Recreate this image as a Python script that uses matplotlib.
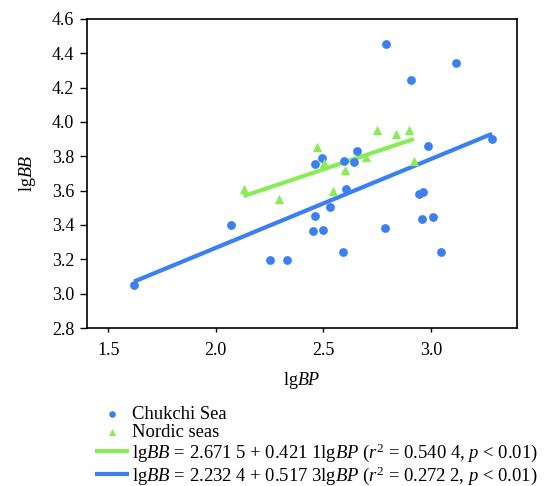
import matplotlib
matplotlib.use("Agg")
import matplotlib.pyplot as plt
import numpy as np

plt.rcParams['font.family'] = ['Liberation Serif', 'DejaVu Serif']
plt.rcParams['mathtext.fontset'] = 'custom'
plt.rcParams['mathtext.rm'] = 'Liberation Serif'
plt.rcParams['mathtext.it'] = 'Liberation Serif:italic'
plt.rcParams['mathtext.bf'] = 'Liberation Serif:bold'

# Chukchi Sea
chukchi_x = [1.62, 2.07, 2.25, 2.33, 2.45, 2.46, 2.46, 2.495, 2.50, 2.53, 2.59, 2.595, 2.607,
             2.641, 2.657, 2.786, 2.79, 2.907, 2.944, 2.961, 2.959, 2.987, 3.008, 3.045, 3.118, 3.284]
chukchi_y = [3.05, 3.40, 3.198, 3.195, 3.365, 3.453, 3.757, 3.789, 3.373, 3.503, 3.241, 3.775, 3.608,
             3.765, 3.833, 3.383, 4.456, 4.243, 3.581, 3.592, 3.437, 3.862, 3.449, 3.245, 4.345, 3.901]
# Nordic seas
nordic_x = [2.129, 2.292, 2.472, 2.503, 2.547, 2.599, 2.697, 2.751, 2.837, 2.899, 2.921]
nordic_y = [3.608, 3.553, 3.853, 3.763, 3.598, 3.721, 3.798, 3.952, 3.930, 3.954, 3.773]

# regression coefficients (intercept, slope)
nordic_fit = (2.6715, 0.4211)
chukchi_fit = (2.2324, 0.5173)

nordic_label = r"lg$BB$ = 2.671 5 + 0.421 1lg$BP$ ($r^2$ = 0.540 4, $p$ < 0.01)"
chukchi_label = r"lg$BB$ = 2.232 4 + 0.517 3lg$BP$ ($r^2$ = 0.272 2, $p$ < 0.01)"

xticks = [1.5, 2.0, 2.5, 3.0]
yticks = [2.8, 3.0, 3.2, 3.4, 3.6, 3.8, 4.0, 4.2, 4.4, 4.6]

blue = '#3b7ff0'
green = '#88ec57'

fig = plt.figure(figsize=(5.44, 4.86), dpi=100)
ax = fig.add_axes([86.7/544, 1-328/486, (517-86.7)/544, (328-19)/486])

s1 = ax.scatter(chukchi_x, chukchi_y, s=40, color=blue, marker='o', linewidths=0, zorder=3,
                label='Chukchi Sea')
s2 = ax.scatter(nordic_x, nordic_y, s=45, color=green, marker='^', linewidths=0, zorder=3,
                label='Nordic seas')

nx = np.array([min(nordic_x), max(nordic_x)])
cx = np.array([min(chukchi_x), max(chukchi_x)])
l1, = ax.plot(nx, nordic_fit[0] + nordic_fit[1]*nx, color=green, lw=3.0,
              solid_capstyle='butt', zorder=2, label=nordic_label)
l2, = ax.plot(cx, chukchi_fit[0] + chukchi_fit[1]*cx, color=blue, lw=3.0,
              solid_capstyle='butt', zorder=2, label=chukchi_label)

ax.set_xlim(1.4, 3.4)
ax.set_ylim(2.8, 4.6)
ax.set_xticks(xticks)
ax.set_xticklabels([f"{v:.1f}" for v in xticks])
ax.set_yticks(yticks)
ax.set_yticklabels([f"{v:.1f}" for v in yticks])
ax.tick_params(axis='x', direction='out', length=3, width=1, pad=7, labelsize=13)
ax.tick_params(axis='y', direction='out', length=5, width=1, pad=4, labelsize=13)
for sp in ax.spines.values():
    sp.set_linewidth(1.2)

ax.set_xlabel(r"lg$BP$", fontsize=13, labelpad=8)
ax.set_ylabel(r"lg$BB$", fontsize=13, labelpad=10)

leg = fig.legend(handles=[s1, s2, l1, l2], loc='upper left',
                 bbox_to_anchor=(82/544, 1-393/486), frameon=False, fontsize=13.4,
                 handlelength=1.8, handletextpad=0.2, labelspacing=0.03,
                 borderpad=0.2, scatterpoints=1, markerscale=0.75)

fig.savefig("out.png", dpi=100)
